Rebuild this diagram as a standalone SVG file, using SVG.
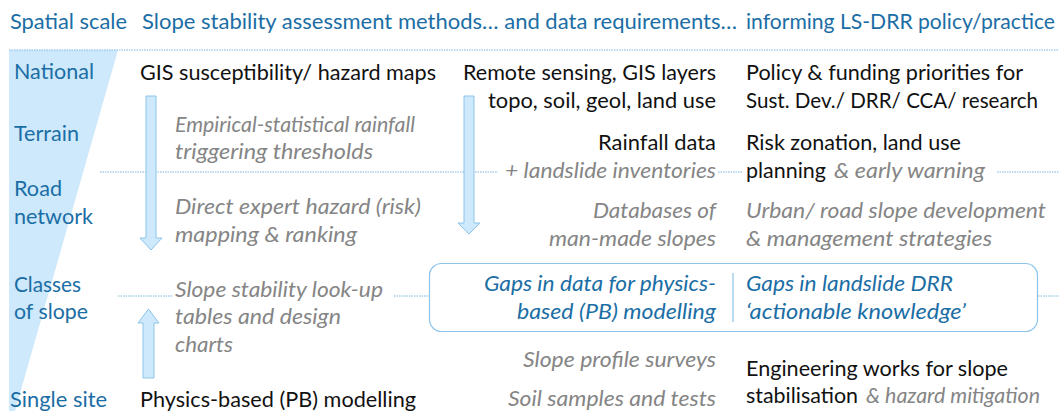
<svg xmlns="http://www.w3.org/2000/svg" width="1059" height="411" viewBox="0 0 1059 411">
<style>
text{font-family:Lato,"Open Sans","Liberation Sans",sans-serif;font-size:21px}
.h{fill:#1b6ea5}
.s{fill:#1b6ea5}
.b{fill:#111}
.g{fill:#858585;font-style:italic}
.q{fill:#1b6ea5;font-style:italic}
.dot{stroke:#7ab8e0;stroke-width:1;stroke-dasharray:1.5 1;fill:none}
.arr{fill:#cde9fb;stroke:#8cc4ea;stroke-width:1}
</style>
<rect width="1059" height="411" fill="#fff"/>
<g id="scale-wedge"><polygon points="9,50 118,50 15,411 9,411" fill="#cde9fb"/></g>
<g id="connectors">
<line class="dot" x1="9" y1="50" x2="1059" y2="50"/>
<line class="dot" x1="100" y1="172" x2="498" y2="172"/>
<line class="dot" x1="718" y1="172" x2="742" y2="172"/>
<line class="dot" x1="997" y1="172" x2="1059" y2="172"/>
<line class="dot" x1="118" y1="296" x2="172" y2="296"/>
<line class="dot" x1="394" y1="296" x2="429" y2="296"/>
<line class="dot" x1="1038" y1="296" x2="1059" y2="296"/>
<polygon class="arr" points="146,96 156,96 156,238 162,238 151,250 140,238 146,238"/>
<polygon class="arr" points="464,96 474,96 474,223 480,223 469,234 458,223 464,223"/>
<polygon class="arr" points="143,378 154,378 154,323 159,323 148.5,309 138,323 143,323"/>
</g>
<g id="headers">
<text class="h" x="10" y="29" textLength="117" lengthAdjust="spacingAndGlyphs">Spatial scale</text>
<text class="h" x="142" y="29" textLength="595" lengthAdjust="spacingAndGlyphs">Slope stability assessment methods… and data requirements…</text>
<text class="h" x="746" y="29" textLength="309" lengthAdjust="spacingAndGlyphs">informing LS-DRR policy/practice</text>
</g>
<g id="scale-labels">
<text class="s" x="14" y="79" textLength="80" lengthAdjust="spacingAndGlyphs">National</text>
<text class="s" x="14" y="141" textLength="65" lengthAdjust="spacingAndGlyphs">Terrain</text>
<text class="s" x="14" y="196" textLength="48" lengthAdjust="spacingAndGlyphs">Road</text>
<text class="s" x="14" y="224" textLength="79" lengthAdjust="spacingAndGlyphs">network</text>
<text class="s" x="14" y="292" textLength="67" lengthAdjust="spacingAndGlyphs">Classes</text>
<text class="s" x="14" y="319" textLength="74" lengthAdjust="spacingAndGlyphs">of slope</text>
<text class="s" x="10" y="407" textLength="97" lengthAdjust="spacingAndGlyphs">Single site</text>
</g>
<g id="methods">
<text class="b" x="140" y="80" textLength="296" lengthAdjust="spacingAndGlyphs">GIS susceptibility/ hazard maps</text>
<text class="g" x="175" y="132" textLength="240" lengthAdjust="spacingAndGlyphs">Empirical-statistical  rainfall</text>
<text class="g" x="175" y="159" textLength="198" lengthAdjust="spacingAndGlyphs">triggering thresholds</text>
<text class="g" x="175" y="214" textLength="246" lengthAdjust="spacingAndGlyphs">Direct expert hazard (risk)</text>
<text class="g" x="175" y="242" textLength="182" lengthAdjust="spacingAndGlyphs">mapping &amp; ranking</text>
<text class="g" x="175" y="297" textLength="208" lengthAdjust="spacingAndGlyphs">Slope stability look-up</text>
<text class="g" x="175" y="324" textLength="166" lengthAdjust="spacingAndGlyphs">tables and design</text>
<text class="g" x="175" y="352" textLength="58" lengthAdjust="spacingAndGlyphs">charts</text>
<text class="b" x="140" y="407" textLength="276" lengthAdjust="spacingAndGlyphs">Physics-based (PB) modelling</text>
</g>
<g id="data">
<text class="b" x="463" y="80" textLength="253" lengthAdjust="spacingAndGlyphs">Remote sensing, GIS layers</text>
<text class="b" x="488" y="108" textLength="228" lengthAdjust="spacingAndGlyphs">topo, soil, geol, land use</text>
<text class="b" x="598" y="150" textLength="118" lengthAdjust="spacingAndGlyphs">Rainfall data</text>
<text class="g" x="505" y="178" textLength="211" lengthAdjust="spacingAndGlyphs">+ landslide inventories</text>
<text class="g" x="593" y="218" textLength="123" lengthAdjust="spacingAndGlyphs">Databases of</text>
<text class="g" x="549" y="246" textLength="167" lengthAdjust="spacingAndGlyphs">man-made slopes</text>
<text class="g" x="523" y="367" textLength="193" lengthAdjust="spacingAndGlyphs">Slope profile surveys</text>
<text class="g" x="508" y="406" textLength="208" lengthAdjust="spacingAndGlyphs">Soil samples and tests</text>
</g>
<g id="policy">
<text class="b" x="746" y="80" textLength="277" lengthAdjust="spacingAndGlyphs">Policy &amp; funding priorities for</text>
<text class="b" x="746" y="108" textLength="292" lengthAdjust="spacingAndGlyphs">Sust. Dev./ DRR/ CCA/ research</text>
<text class="b" x="746" y="150" textLength="215" lengthAdjust="spacingAndGlyphs">Risk zonation, land use</text>
<text class="b" x="746" y="178" textLength="80" lengthAdjust="spacingAndGlyphs">planning</text>
<text class="g" x="834" y="178" textLength="151" lengthAdjust="spacingAndGlyphs">&amp; early warning</text>
<text class="g" x="746" y="218" textLength="300" lengthAdjust="spacingAndGlyphs">Urban/ road slope development</text>
<text class="g" x="746" y="246" textLength="246" lengthAdjust="spacingAndGlyphs">&amp; management strategies</text>
<text class="b" x="746" y="376" textLength="262" lengthAdjust="spacingAndGlyphs">Engineering works for slope</text>
<text class="b" x="746" y="403" textLength="112" lengthAdjust="spacingAndGlyphs">stabilisation</text>
<text class="g" x="866" y="403" textLength="174" lengthAdjust="spacingAndGlyphs">&amp; hazard mitigation</text>
</g>
<g id="gaps-box">
<rect x="429.5" y="263.5" width="608" height="68" rx="12" fill="none" stroke="#8cc4ea" stroke-width="1.2"/>
<line x1="733" y1="273" x2="733" y2="322" stroke="#8cc4ea" stroke-width="1.2"/>
<text class="q" x="484" y="291" textLength="232" lengthAdjust="spacingAndGlyphs">Gaps in data for physics-</text>
<text class="q" x="517" y="319" textLength="199" lengthAdjust="spacingAndGlyphs">based (PB) modelling</text>
<text class="q" x="746" y="291" textLength="207" lengthAdjust="spacingAndGlyphs">Gaps in landslide DRR</text>
<text class="q" x="746" y="319" textLength="220" lengthAdjust="spacingAndGlyphs">‘actionable knowledge’</text>
</g>
</svg>
